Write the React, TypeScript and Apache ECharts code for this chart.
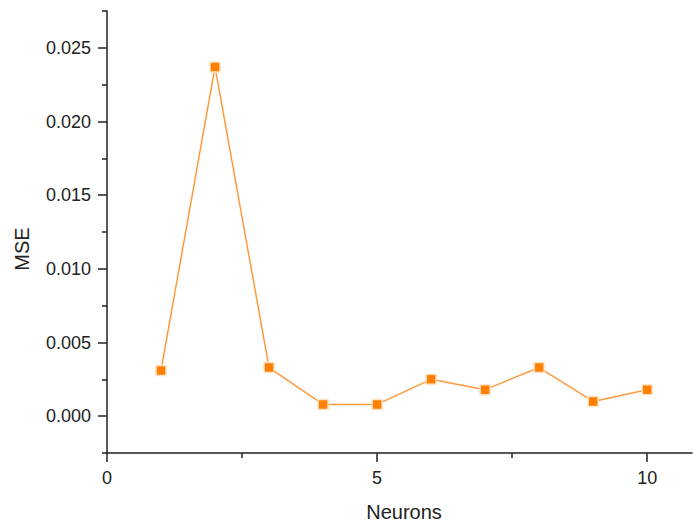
import React, { useEffect, useRef } from "react";
import * as echarts from "echarts";

// Mean squared error by number of hidden neurons
const neurons = [1, 2, 3, 4, 5, 6, 7, 8, 9, 10];
const mse = [0.0031, 0.0237, 0.0033, 0.0008, 0.0008, 0.0025, 0.0018, 0.0033, 0.001, 0.0018];

const yMajorTicks = [0, 0.005, 0.01, 0.015, 0.02, 0.025];
const yMinorTicks = [-0.0025, 0.0025, 0.0075, 0.0125, 0.0175, 0.0225, 0.0275];
const xMajorTicks = [0, 5, 10];
const xMinorTicks = [2.5, 7.5];

const FONT = 'Arial, "Liberation Sans", Helvetica, sans-serif';
const INK = "#222";
const ORANGE = "#ff7f00";

export default function App() {
  const ref = useRef<HTMLDivElement>(null);

  useEffect(() => {
    if (!ref.current) return;
    const chart = echarts.init(ref.current, null, { renderer: "svg" });

    const Y_MIN = -0.0025;
    const Y_MAX = 0.0275;
    const X_MIN = 0;
    const X_MAX = 10.83;

    chart.setOption({
      animation: false,
      backgroundColor: "#fff",
      grid: { left: 107, top: 11, right: 1, bottom: 72, containLabel: false },
      xAxis: [
        {
          type: "value",
          min: X_MIN,
          max: X_MAX,
          axisLine: { show: true, onZero: false, lineStyle: { color: INK, width: 1.5 } },
          axisTick: { show: true, inside: false, length: 9, customValues: xMajorTicks, lineStyle: { color: INK, width: 1.5 } },
          axisLabel: {
            customValues: xMajorTicks,
            margin: 16,
            color: INK,
            fontSize: 18,
            fontFamily: FONT,
          },
          splitLine: { show: false },
        },
        {
          type: "value",
          min: X_MIN,
          max: X_MAX,
          position: "bottom",
          axisLine: { show: false, onZero: false },
          axisTick: { show: true, length: 5, customValues: xMinorTicks, lineStyle: { color: INK, width: 1.5 } },
          axisLabel: { show: false },
          splitLine: { show: false },
        },
      ],
      yAxis: [
        {
          type: "value",
          min: Y_MIN,
          max: Y_MAX,
          axisLine: { show: true, onZero: false, lineStyle: { color: INK, width: 1.5 } },
          axisTick: { show: true, length: 9, customValues: yMajorTicks, lineStyle: { color: INK, width: 1.5 } },
          axisLabel: {
            customValues: yMajorTicks,
            margin: 16,
            color: INK,
            fontSize: 18,
            fontFamily: FONT,
            formatter: (v: number) => v.toFixed(3),
          },
          splitLine: { show: false },
        },
        {
          type: "value",
          min: Y_MIN,
          max: Y_MAX,
          position: "left",
          axisLine: { show: false, onZero: false },
          axisTick: { show: true, length: 5, customValues: yMinorTicks, lineStyle: { color: INK, width: 1.5 } },
          axisLabel: { show: false },
          splitLine: { show: false },
        },
      ],
      graphic: [
        {
          type: "text",
          x: 22,
          y: 249,
          rotation: Math.PI / 2,
          style: {
            text: "MSE",
            fill: INK,
            font: `20px ${FONT}`,
            align: "center",
            verticalAlign: "middle",
          },
        },
        {
          type: "text",
          x: 404,
          y: 512,
          style: {
            text: "Neurons",
            fill: INK,
            font: `20px ${FONT}`,
            align: "center",
            verticalAlign: "middle",
          },
        },
      ],
      series: [
        {
          type: "line",
          xAxisIndex: 0,
          yAxisIndex: 0,
          data: neurons.map((n, i) => [n, mse[i]]),
          symbol: "rect",
          symbolSize: 10,
          lineStyle: { color: "#ff9a3c", width: 1.5 },
          itemStyle: { color: ORANGE, borderColor: "#ffe3c4", borderWidth: 1.5 },
          z: 3,
        },
      ],
    });

    return () => chart.dispose();
  }, []);

  return (
    <div
      ref={ref}
      style={{ position: "fixed", left: 0, top: 0, width: 693, height: 525, background: "#fff" }}
    />
  );
}
